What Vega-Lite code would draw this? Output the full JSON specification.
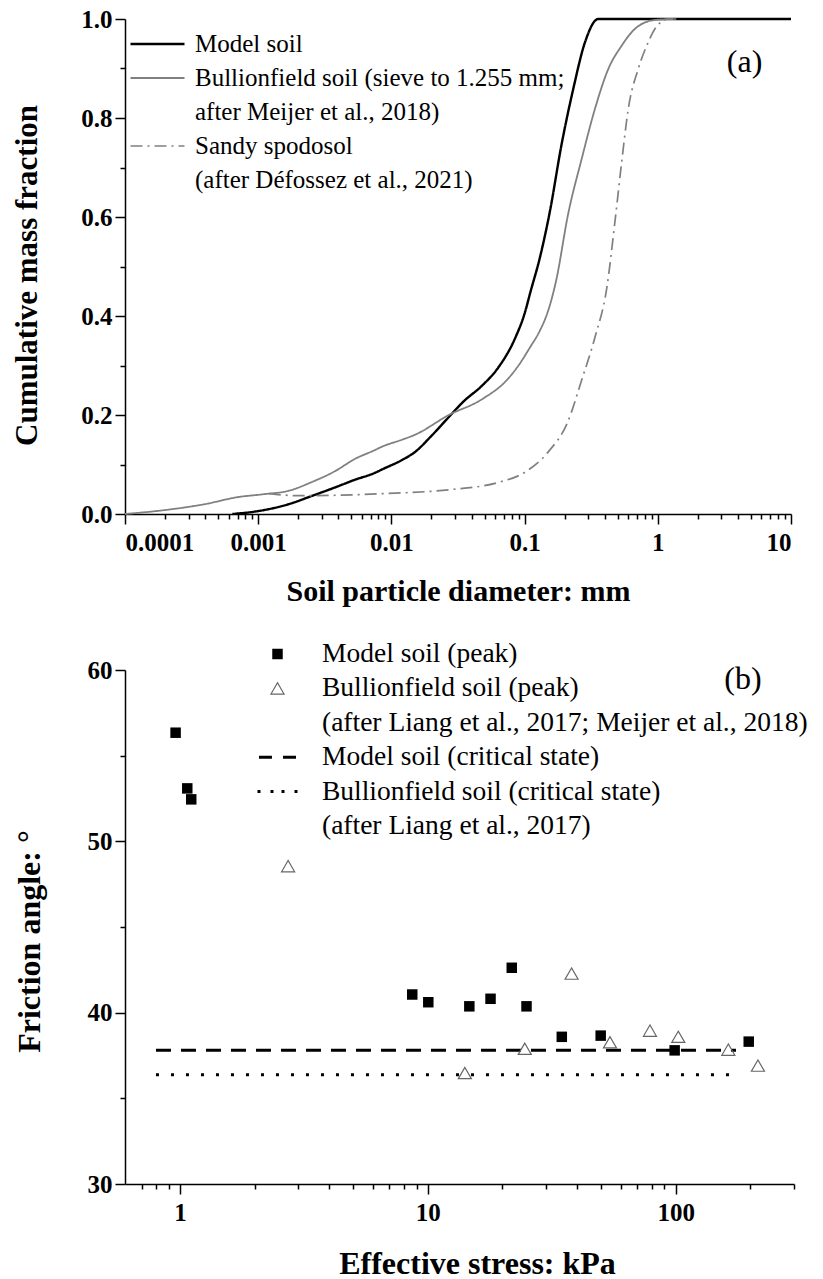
{
  "$schema": "https://vega.github.io/schema/vega-lite/v6.json",
  "background": "white",
  "padding": {"left": 11, "top": 7, "right": 5, "bottom": 5},
  "spacing": 156,
  "bounds": "flush",
  "resolve": {
    "scale": {"color": "independent", "strokeDash": "independent", "strokeWidth": "independent", "shape": "independent", "size": "independent", "fill": "independent", "stroke": "independent"},
    "legend": {"color": "independent", "strokeDash": "independent", "strokeWidth": "independent", "shape": "independent", "size": "independent", "fill": "independent", "stroke": "independent"}
  },
  "config": {
    "view": {"stroke": null},
    "font": "Liberation Serif",
    "axis": {
      "grid": false,
      "domainColor": "black",
      "domainWidth": 1.5,
      "tickColor": "black",
      "tickWidth": 1.5,
      "tickSize": 10,
      "labelFont": "Liberation Serif",
      "labelFontWeight": "bold",
      "labelFontSize": 25,
      "labelColor": "black",
      "titleFont": "Liberation Serif",
      "titleFontWeight": "bold",
      "titleFontSize": 30,
      "titleColor": "black"
    },
    "legend": {
      "labelFont": "Liberation Serif",
      "labelFontSize": 25,
      "labelColor": "black",
      "labelLimit": 800,
      "padding": 0,
      "title": null
    }
  },
  "vconcat": [
    {
      "width": 666,
      "height": 495,
      "resolve": {"axis": {"x": "independent", "y": "independent"}},
      "layer": [
        {
          "data": {"name": "curves", "values": [
            {"series": "Model soil", "d": 0.00064, "f": 0},
            {"series": "Model soil", "d": 0.00095, "f": 0.005},
            {"series": "Model soil", "d": 0.0017, "f": 0.02},
            {"series": "Model soil", "d": 0.0025, "f": 0.036},
            {"series": "Model soil", "d": 0.0038, "f": 0.054},
            {"series": "Model soil", "d": 0.0053, "f": 0.069},
            {"series": "Model soil", "d": 0.0075, "f": 0.083},
            {"series": "Model soil", "d": 0.0085, "f": 0.09},
            {"series": "Model soil", "d": 0.012, "f": 0.109},
            {"series": "Model soil", "d": 0.015, "f": 0.125},
            {"series": "Model soil", "d": 0.02, "f": 0.158},
            {"series": "Model soil", "d": 0.0268, "f": 0.195},
            {"series": "Model soil", "d": 0.035, "f": 0.228},
            {"series": "Model soil", "d": 0.0478, "f": 0.259},
            {"series": "Model soil", "d": 0.0635, "f": 0.296},
            {"series": "Model soil", "d": 0.0845, "f": 0.354},
            {"series": "Model soil", "d": 0.1, "f": 0.405},
            {"series": "Model soil", "d": 0.111, "f": 0.45},
            {"series": "Model soil", "d": 0.13, "f": 0.517},
            {"series": "Model soil", "d": 0.155, "f": 0.612},
            {"series": "Model soil", "d": 0.189, "f": 0.745},
            {"series": "Model soil", "d": 0.232, "f": 0.859},
            {"series": "Model soil", "d": 0.284, "f": 0.953},
            {"series": "Model soil", "d": 0.357, "f": 1.0},
            {"series": "Model soil", "d": 10, "f": 1.0},
            {"series": "Bullionfield soil (sieve to 1.255 mm;", "d": 0.0001, "f": 0},
            {"series": "Bullionfield soil (sieve to 1.255 mm;", "d": 0.0002, "f": 0.008},
            {"series": "Bullionfield soil (sieve to 1.255 mm;", "d": 0.0004, "f": 0.02},
            {"series": "Bullionfield soil (sieve to 1.255 mm;", "d": 0.0007, "f": 0.034},
            {"series": "Bullionfield soil (sieve to 1.255 mm;", "d": 0.0011, "f": 0.04},
            {"series": "Bullionfield soil (sieve to 1.255 mm;", "d": 0.0017, "f": 0.047},
            {"series": "Bullionfield soil (sieve to 1.255 mm;", "d": 0.0025, "f": 0.064},
            {"series": "Bullionfield soil (sieve to 1.255 mm;", "d": 0.0038, "f": 0.087},
            {"series": "Bullionfield soil (sieve to 1.255 mm;", "d": 0.0053, "f": 0.111},
            {"series": "Bullionfield soil (sieve to 1.255 mm;", "d": 0.0075, "f": 0.129},
            {"series": "Bullionfield soil (sieve to 1.255 mm;", "d": 0.0085, "f": 0.136},
            {"series": "Bullionfield soil (sieve to 1.255 mm;", "d": 0.012, "f": 0.15},
            {"series": "Bullionfield soil (sieve to 1.255 mm;", "d": 0.015, "f": 0.16},
            {"series": "Bullionfield soil (sieve to 1.255 mm;", "d": 0.027, "f": 0.2},
            {"series": "Bullionfield soil (sieve to 1.255 mm;", "d": 0.048, "f": 0.232},
            {"series": "Bullionfield soil (sieve to 1.255 mm;", "d": 0.075, "f": 0.273},
            {"series": "Bullionfield soil (sieve to 1.255 mm;", "d": 0.09, "f": 0.3},
            {"series": "Bullionfield soil (sieve to 1.255 mm;", "d": 0.11, "f": 0.337},
            {"series": "Bullionfield soil (sieve to 1.255 mm;", "d": 0.13, "f": 0.37},
            {"series": "Bullionfield soil (sieve to 1.255 mm;", "d": 0.15, "f": 0.41},
            {"series": "Bullionfield soil (sieve to 1.255 mm;", "d": 0.172, "f": 0.47},
            {"series": "Bullionfield soil (sieve to 1.255 mm;", "d": 0.213, "f": 0.608},
            {"series": "Bullionfield soil (sieve to 1.255 mm;", "d": 0.268, "f": 0.717},
            {"series": "Bullionfield soil (sieve to 1.255 mm;", "d": 0.337, "f": 0.818},
            {"series": "Bullionfield soil (sieve to 1.255 mm;", "d": 0.425, "f": 0.899},
            {"series": "Bullionfield soil (sieve to 1.255 mm;", "d": 0.535, "f": 0.946},
            {"series": "Bullionfield soil (sieve to 1.255 mm;", "d": 0.673, "f": 0.98},
            {"series": "Bullionfield soil (sieve to 1.255 mm;", "d": 0.95, "f": 0.998},
            {"series": "Bullionfield soil (sieve to 1.255 mm;", "d": 1.3, "f": 1.0},
            {"series": "Sandy spodosol", "d": 0.0012, "f": 0.041},
            {"series": "Sandy spodosol", "d": 0.002, "f": 0.037},
            {"series": "Sandy spodosol", "d": 0.004, "f": 0.038},
            {"series": "Sandy spodosol", "d": 0.0085, "f": 0.041},
            {"series": "Sandy spodosol", "d": 0.027, "f": 0.049},
            {"series": "Sandy spodosol", "d": 0.064, "f": 0.064},
            {"series": "Sandy spodosol", "d": 0.1, "f": 0.084},
            {"series": "Sandy spodosol", "d": 0.15, "f": 0.125},
            {"series": "Sandy spodosol", "d": 0.21, "f": 0.185},
            {"series": "Sandy spodosol", "d": 0.27, "f": 0.273},
            {"series": "Sandy spodosol", "d": 0.34, "f": 0.36},
            {"series": "Sandy spodosol", "d": 0.413, "f": 0.455},
            {"series": "Sandy spodosol", "d": 0.476, "f": 0.589},
            {"series": "Sandy spodosol", "d": 0.535, "f": 0.71},
            {"series": "Sandy spodosol", "d": 0.6, "f": 0.818},
            {"series": "Sandy spodosol", "d": 0.713, "f": 0.899},
            {"series": "Sandy spodosol", "d": 0.847, "f": 0.953},
            {"series": "Sandy spodosol", "d": 0.95, "f": 0.98},
            {"series": "Sandy spodosol", "d": 1.2, "f": 1.0},
            {"series": "Sandy spodosol", "d": 1.5, "f": 1.0}
          ]},
          "mark": {"type": "line", "interpolate": "monotone"},
          "encoding": {
            "x": {"field": "d", "type": "quantitative",
              "scale": {"type": "log", "domain": [0.0001, 10], "nice": false},
              "axis": {"orient": "bottom", "values": [0.0001, 0.001, 0.01, 0.1, 1, 10], "format": ".4~f", "title": "Soil particle diameter: mm", "labelPadding": 6, "titlePadding": 21}},
            "y": {"field": "f", "type": "quantitative",
              "scale": {"domain": [0, 1], "nice": false, "zero": false},
              "axis": {"orient": "left", "values": [0, 0.2, 0.4, 0.6, 0.8, 1.0], "format": ".1f", "title": "Cumulative mass fraction", "titleFontSize": 31, "titleY": 256, "labelPadding": 3, "titlePadding": 37}},
            "color": {"field": "series", "type": "nominal",
              "scale": {"domain": ["Model soil", "Bullionfield soil (sieve to 1.255 mm;", "after Meijer et al., 2018)", "Sandy spodosol", "(after Défossez et al., 2021)"],
                        "range": ["black", "#808080", "transparent", "#808080", "transparent"]},
              "legend": {"orient": "none", "legendX": 4, "legendY": 11, "title": null, "symbolType": "stroke", "symbolSize": 2916, "labelOffset": 9, "clipHeight": 28, "rowPadding": 6}},
            "strokeDash": {"field": "series", "type": "nominal",
              "scale": {"domain": ["Model soil", "Bullionfield soil (sieve to 1.255 mm;", "after Meijer et al., 2018)", "Sandy spodosol", "(after Défossez et al., 2021)"],
                        "range": [[1, 0], [1, 0], [1, 0], [12, 5, 2, 5], [1, 0]]},
              "legend": {"title": null}},
            "strokeWidth": {"field": "series", "type": "ordinal",
              "scale": {"type": "ordinal", "domain": ["Model soil", "Bullionfield soil (sieve to 1.255 mm;", "after Meijer et al., 2018)", "Sandy spodosol", "(after Défossez et al., 2021)"],
                        "range": [2.4, 1.8, 1, 1.7, 1]},
              "legend": {"title": null}}
          }
        },
        {
          "data": {"name": "curves"},
          "mark": {"type": "point", "opacity": 0},
          "encoding": {
            "x": {"field": "d", "type": "quantitative",
              "scale": {"type": "log", "domain": [0.0001, 10], "nice": false},
              "axis": {"orient": "bottom", "values": [0.0002, 0.0003, 0.0004, 0.0005, 0.0006, 0.0007, 0.0008, 0.0009, 0.002, 0.003, 0.004, 0.005, 0.006, 0.007, 0.008, 0.009, 0.02, 0.03, 0.04, 0.05, 0.06, 0.07, 0.08, 0.09, 0.2, 0.3, 0.4, 0.5, 0.6, 0.7, 0.8, 0.9, 2, 3, 4, 5, 6, 7, 8, 9], "labels": false, "domain": false, "tickSize": 5, "title": null}},
            "y": {"field": "f", "type": "quantitative",
              "scale": {"domain": [0, 1], "nice": false, "zero": false},
              "axis": {"orient": "left", "values": [0.1, 0.3, 0.5, 0.7, 0.9], "labels": false, "domain": false, "tickSize": 5, "title": null}}
          }
        },
        {
          "data": {"values": [{"label": "(a)"}]},
          "mark": {"type": "text", "font": "Liberation Serif", "fontSize": 32, "align": "center", "baseline": "middle", "color": "black"},
          "encoding": {
            "x": {"datum": 4.48, "type": "quantitative", "axis": null},
            "y": {"datum": 0.913, "type": "quantitative", "axis": null},
            "text": {"field": "label"}
          }
        }
      ]
    },
    {
      "width": 669,
      "height": 514,
      "resolve": {"axis": {"x": "independent", "y": "independent"}},
      "layer": [
        {
          "data": {"values": [{"s0": 0.8, "s1": 175, "phi": 37.8}]},
          "mark": {"type": "rule", "color": "black", "strokeWidth": 3, "strokeDash": [15, 10]},
          "encoding": {
            "x": {"field": "s0", "type": "quantitative", "scale": {"type": "log", "domain": [0.6, 300], "nice": false}, "axis": null},
            "x2": {"field": "s1"},
            "y": {"field": "phi", "type": "quantitative", "scale": {"domain": [30, 60], "nice": false, "zero": false}, "axis": null}
          }
        },
        {
          "data": {"values": [{"s0": 0.8, "s1": 180, "phi": 36.38}]},
          "mark": {"type": "rule", "color": "black", "strokeWidth": 3, "strokeDash": [3, 12]},
          "encoding": {
            "x": {"field": "s0", "type": "quantitative", "axis": null},
            "x2": {"field": "s1"},
            "y": {"field": "phi", "type": "quantitative", "axis": null}
          }
        },
        {
          "data": {"name": "peaks", "values": [
            {"series": "Model soil (peak)", "p": 0.96, "phi": 56.34},
            {"series": "Model soil (peak)", "p": 1.07, "phi": 53.09},
            {"series": "Model soil (peak)", "p": 1.11, "phi": 52.45},
            {"series": "Model soil (peak)", "p": 8.65, "phi": 41.06},
            {"series": "Model soil (peak)", "p": 10.04, "phi": 40.61},
            {"series": "Model soil (peak)", "p": 14.7, "phi": 40.37},
            {"series": "Model soil (peak)", "p": 17.9, "phi": 40.81},
            {"series": "Model soil (peak)", "p": 21.8, "phi": 42.62},
            {"series": "Model soil (peak)", "p": 25.0, "phi": 40.37},
            {"series": "Model soil (peak)", "p": 34.7, "phi": 38.59},
            {"series": "Model soil (peak)", "p": 49.8, "phi": 38.66},
            {"series": "Model soil (peak)", "p": 99, "phi": 37.8},
            {"series": "Model soil (peak)", "p": 197, "phi": 38.31},
            {"series": "Bullionfield soil (peak)", "p": 2.73, "phi": 48.55},
            {"series": "Bullionfield soil (peak)", "p": 14.1, "phi": 36.48},
            {"series": "Bullionfield soil (peak)", "p": 24.6, "phi": 37.89},
            {"series": "Bullionfield soil (peak)", "p": 38.0, "phi": 42.28},
            {"series": "Bullionfield soil (peak)", "p": 54.3, "phi": 38.27},
            {"series": "Bullionfield soil (peak)", "p": 78.7, "phi": 38.95},
            {"series": "Bullionfield soil (peak)", "p": 102.4, "phi": 38.59},
            {"series": "Bullionfield soil (peak)", "p": 163, "phi": 37.84},
            {"series": "Bullionfield soil (peak)", "p": 214.6, "phi": 36.91}
          ]},
          "mark": {"type": "point", "opacity": 1},
          "encoding": {
            "x": {"field": "p", "type": "quantitative",
              "axis": {"orient": "bottom", "values": [1, 10, 100], "format": "~g", "title": "Effective stress: kPa", "titleFontSize": 32, "titleX": 352, "labelPadding": 6, "titlePadding": 23}},
            "y": {"field": "phi", "type": "quantitative",
              "axis": {"orient": "left", "values": [30, 40, 50, 60], "format": "d", "title": "Friction angle: °", "titleFontSize": 32, "titleY": 271, "labelPadding": 3, "titlePadding": 41}},
            "shape": {"field": "series", "type": "nominal",
              "scale": {"domain": ["Model soil (peak)", "Bullionfield soil (peak)", "(after Liang et al., 2017; Meijer et al., 2018)", "Model soil (critical state)", "Bullionfield soil (critical state)", "(after Liang et al., 2017)"],
                        "range": ["square", "triangle-up", "circle", "M-1,0H-0.3M0.3,0H1", "M-1,0H-0.85M-0.35,0H-0.2M0.2,0H0.35M0.85,0H1", "circle"]},
              "legend": {"orient": "none", "legendX": 131, "legendY": -31, "title": null, "labelFontSize": 27.5, "labelOffset": 23, "clipHeight": 30, "rowPadding": 4.4}},
            "size": {"field": "series", "type": "ordinal",
              "scale": {"type": "ordinal", "domain": ["Model soil (peak)", "Bullionfield soil (peak)", "(after Liang et al., 2017; Meijer et al., 2018)", "Model soil (critical state)", "Bullionfield soil (critical state)", "(after Liang et al., 2017)"],
                        "range": [110, 170, 0, 1369, 1600, 0]},
              "legend": {"title": null}},
            "fill": {"field": "series", "type": "nominal",
              "scale": {"domain": ["Model soil (peak)", "Bullionfield soil (peak)", "(after Liang et al., 2017; Meijer et al., 2018)", "Model soil (critical state)", "Bullionfield soil (critical state)", "(after Liang et al., 2017)"],
                        "range": ["black", "transparent", "transparent", "transparent", "transparent", "transparent"]},
              "legend": {"title": null}},
            "stroke": {"field": "series", "type": "nominal",
              "scale": {"domain": ["Model soil (peak)", "Bullionfield soil (peak)", "(after Liang et al., 2017; Meijer et al., 2018)", "Model soil (critical state)", "Bullionfield soil (critical state)", "(after Liang et al., 2017)"],
                        "range": ["black", "#666666", "transparent", "black", "black", "transparent"]},
              "legend": {"title": null}},
            "strokeWidth": {"field": "series", "type": "ordinal",
              "scale": {"type": "ordinal", "domain": ["Model soil (peak)", "Bullionfield soil (peak)", "(after Liang et al., 2017; Meijer et al., 2018)", "Model soil (critical state)", "Bullionfield soil (critical state)", "(after Liang et al., 2017)"],
                        "range": [0, 1.2, 0, 3, 3, 0]},
              "legend": {"title": null}}
          }
        },
        {
          "data": {"name": "peaks"},
          "mark": {"type": "point", "opacity": 0},
          "encoding": {
            "x": {"field": "p", "type": "quantitative",
              "axis": {"orient": "bottom", "values": [0.7, 0.8, 0.9, 2, 3, 4, 5, 6, 7, 8, 9, 20, 30, 40, 50, 60, 70, 80, 90, 200, 300], "labels": false, "domain": false, "tickSize": 5, "title": null}},
            "y": {"field": "phi", "type": "quantitative",
              "axis": {"orient": "left", "values": [35, 45, 55], "labels": false, "domain": false, "tickSize": 5, "title": null}}
          }
        },
        {
          "data": {"values": [{"label": "(b)"}]},
          "mark": {"type": "text", "font": "Liberation Serif", "fontSize": 32, "align": "center", "baseline": "middle", "color": "black"},
          "encoding": {
            "x": {"datum": 186.6, "type": "quantitative", "axis": null},
            "y": {"datum": 59.46, "type": "quantitative", "axis": null},
            "text": {"field": "label"}
          }
        }
      ]
    }
  ]
}
